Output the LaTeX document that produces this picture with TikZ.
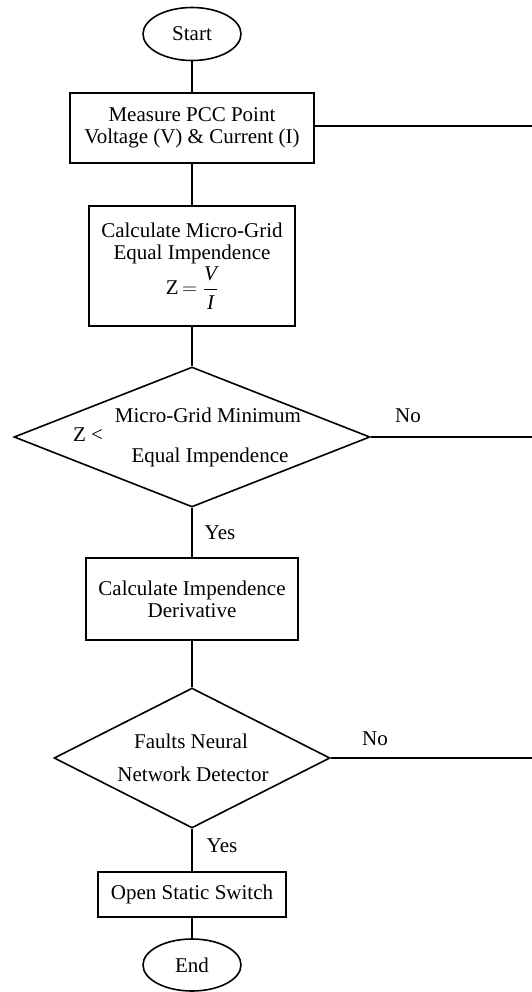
\documentclass[tikz,border=0pt]{standalone}
\usepackage{fontspec}
\setmainfont{Liberation Serif}
\usetikzlibrary{shapes.geometric}

\tikzset{
  terminal/.style={draw, ellipse, line width=1.6pt, minimum width=98pt, minimum height=53pt, inner sep=0pt},
  procbox/.style={draw, rectangle, line width=1.6pt, align=center, inner sep=0pt},
  decision/.style={draw, diamond, line width=1.6pt, inner sep=0pt},
  lbl/.style={anchor=base, inner sep=0pt},
  flow/.style={line width=1.6pt}
}

\begin{document}
\begin{tikzpicture}[x=1pt, y=-1pt, font=\fontsize{21}{22}\selectfont]
\useasboundingbox (0,0) rectangle (532,992);

\node[terminal] (start) at (192,34) {Start};
\node[procbox, minimum width=244pt, minimum height=70pt] (measure) at (192,128)
  {Measure PCC Point\\Voltage (V) \& Current (I)};
\node[procbox, minimum width=206pt, minimum height=120pt] (calcz) at (192,266)
  {Calculate Micro-Grid\\Equal Impendence\\[2pt]Z\,$=\displaystyle\frac{\textit{V}}{\textit{I}}$};
\node[decision, minimum width=356pt, minimum height=140pt] (zcheck) at (192,437) {};
\node[lbl] (zless) at (88,441) {Z <};
\node[lbl] (zmin) at (208,422) {Micro-Grid Minimum};
\node[lbl] (zeq) at (210,462) {Equal Impendence};
\node[procbox, minimum width=212pt, minimum height=82pt] (deriv) at (192,599)
  {Calculate Impendence\\Derivative};
\node[decision, minimum width=276pt, minimum height=140pt] (fnn) at (192,758) {};
\node[lbl] (fnn1) at (191,748) {Faults Neural};
\node[lbl] (fnn2) at (193,781) {Network Detector};
\node[procbox, minimum width=188pt, minimum height=45pt] (open) at (192,894.5) {Open Static Switch};
\node[terminal, minimum height=52pt] (end) at (192,965) {End};

\coordinate (back1) at (532,126);
\coordinate (back2) at (532,437);
\coordinate (back3) at (532,758);

\draw[flow] (start) -- (measure);
\draw[flow] (measure) -- (calcz);
\draw[flow] (calcz) -- (zcheck.north);
\draw[flow] (zcheck.south) -- (deriv);
\draw[flow] (deriv) -- (fnn.north);
\draw[flow] (fnn.south) -- (open);
\draw[flow] (open) -- (end);
\draw[flow] (measure.east |- back1) -- (back1);
\draw[flow] (zcheck.east) -- (back2);
\draw[flow] (fnn.east) -- (back3);

\node[lbl] (no1) at (408,422) {No};
\node[lbl] (yes1) at (220,539) {Yes};
\node[lbl] (no2) at (375,745) {No};
\node[lbl] (yes2) at (222,852) {Yes};
\end{tikzpicture}
\end{document}
